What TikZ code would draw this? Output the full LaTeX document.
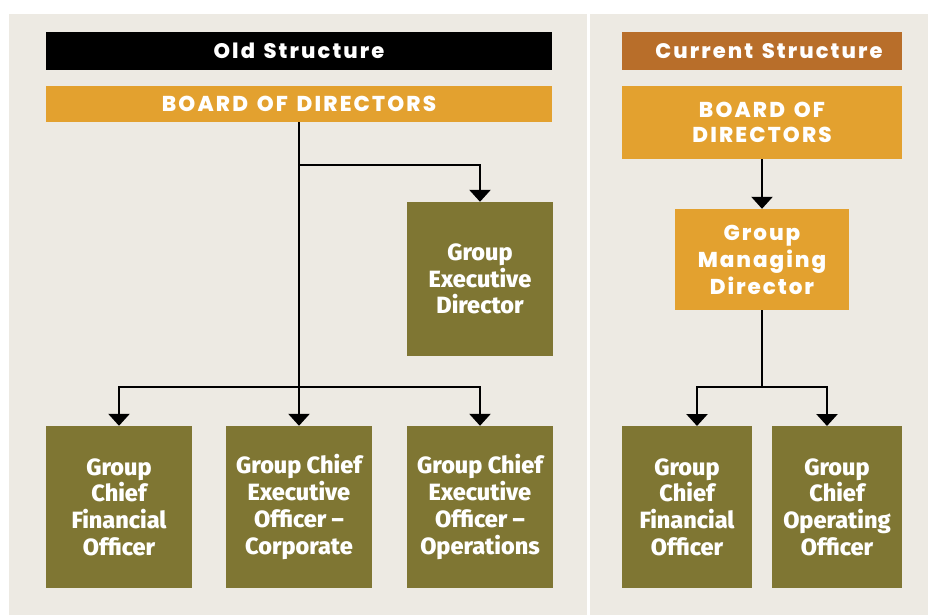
\documentclass[tikz,border=0pt]{standalone}
\usepackage{fontspec}
\newfontfamily\hdrfont[LetterSpace=10,WordSpace=1.4,BoldFont={* ExtraBold}]{Poppins}
\newfontfamily\gmdfont[LetterSpace=9,BoldFont={* ExtraBold}]{Poppins}
\newfontfamily\boxfont[BoldFont={* ExtraBold}]{Fira Sans}
\usetikzlibrary{arrows.meta}
\definecolor{beige}{HTML}{EDEAE3}
\definecolor{gold}{HTML}{E3A12F}
\definecolor{rust}{HTML}{B86E2A}
\definecolor{olive}{HTML}{7F7633}
\begin{document}
\begin{tikzpicture}[x=1pt,y=-1pt,
  hdr/.style={fill=black,text=white,inner sep=0pt,font=\hdrfont\bfseries\fontsize{21}{24}\selectfont},
  goldbox/.style={fill=gold,text=white,inner sep=0pt,align=center,font=\hdrfont\bfseries\fontsize{21.5}{25}\selectfont},
  olivebox/.style={fill=olive,text=white,inner sep=0pt,align=center,font=\boxfont\bfseries\fontsize{23.5}{26.7}\selectfont},
  arr/.style={line width=2.6pt,-{Triangle[width=21pt,length=12pt]}},
  ln/.style={line width=2.6pt}
]
\useasboundingbox (0,0) rectangle (928,615);
\fill[white] (0,0) rectangle (928,615);
\fill[beige] (9,14) rectangle (587,615);
\fill[beige] (590,14) rectangle (928,615);

% Old structure
\node[hdr,minimum width=506pt,minimum height=38pt] (oldhdr) at (299,51) {Old Structure};
\node[goldbox,minimum width=506pt,minimum height=36pt] (oldbod) at (299,104) {BOARD OF DIRECTORS};
\node[olivebox,minimum width=146pt,minimum height=154pt] (ged) at (480,279) {Group\\Executive\\Director};
\node[olivebox,minimum width=146pt,minimum height=162pt] (cfo) at (119,507) {Group\\Chief\\Financial\\Officer};
\node[olivebox,minimum width=146pt,minimum height=162pt] (ceoc) at (299,507) {Group Chief\\Executive\\Officer –\\Corporate};
\node[olivebox,minimum width=146pt,minimum height=162pt] (ceoo) at (480,507) {Group Chief\\Executive\\Officer –\\Operations};

\coordinate (j1) at (299,165);
\coordinate (j2) at (299,387);
\draw[arr] (oldbod.south) -- (ceoc.north);
\draw[arr] (j1) -| (ged.north);
\draw[arr] (j2) -| (cfo.north);
\draw[arr] (j2) -| (ceoo.north);

% Current structure
\node[hdr,fill=rust,minimum width=280pt,minimum height=38pt] (curhdr) at (762,51) {\hspace{14pt}Current Structure};
\node[goldbox,minimum width=280pt,minimum height=73pt] (curbod) at (762,122.5) {BOARD OF\\DIRECTORS};
\node[goldbox,font=\gmdfont\bfseries\fontsize{21.5}{27}\selectfont,minimum width=174pt,minimum height=101pt] (gmd) at (762,259.5) {Group\\Managing\\Director};
\node[olivebox,minimum width=130pt,minimum height=162pt] (cfo2) at (687,507) {Group\\Chief\\Financial\\Officer};
\node[olivebox,minimum width=130pt,minimum height=162pt] (coo) at (837,507) {Group\\Chief\\Operating\\Officer};

\coordinate (j3) at (762,387);
\coordinate (t1) at (697,426);
\coordinate (t2) at (827,426);
\draw[arr] (curbod.south) -- (gmd.north);
\draw[ln] (gmd.south) -- (j3);
\draw[arr] (j3) -| (t1);
\draw[arr] (j3) -| (t2);
\end{tikzpicture}
\end{document}
